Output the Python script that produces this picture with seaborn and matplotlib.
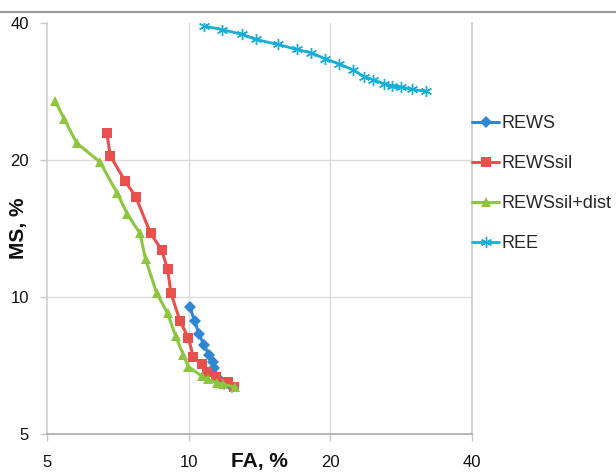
import matplotlib
matplotlib.use("Agg")
import matplotlib.pyplot as plt
import seaborn as sns
import pandas as pd
from matplotlib.ticker import FixedLocator, FixedFormatter, NullLocator
from matplotlib.lines import Line2D

# ---- data ----
rews_fa = [10.06, 10.29, 10.52, 10.78, 11.05, 11.24, 11.32, 11.54, 11.88, 12.36]
rews_ms = [9.51, 8.86, 8.29, 7.84, 7.46, 7.20, 6.98, 6.64, 6.44, 6.34]

rewssil_fa = [6.70, 6.82, 7.32, 7.72, 8.30, 8.76, 9.02, 9.17, 9.58, 9.99,
              10.23, 10.66, 10.92, 11.43, 12.14, 12.50]
rewssil_ms = [22.9, 20.4, 18.0, 16.6, 13.8, 12.7, 11.5, 10.2, 8.87, 8.12,
              7.39, 7.11, 6.85, 6.68, 6.51, 6.35]

dist_fa = [5.20, 5.44, 5.78, 6.48, 7.05, 7.41, 7.88, 8.10, 8.55, 9.02,
           9.38, 9.74, 9.99, 10.66, 11.00, 11.47, 11.81, 12.54]
dist_ms = [27.0, 24.6, 21.8, 19.8, 16.9, 15.2, 13.8, 12.1, 10.2, 9.21,
           8.21, 7.46, 7.03, 6.70, 6.59, 6.48, 6.44, 6.33]

ree_fa = [10.78, 11.75, 12.96, 13.9, 15.45, 16.96, 18.19, 19.48, 20.89, 22.3,
          23.6, 24.7, 26.0, 27.1, 28.3, 29.8, 32.0]
ree_ms = [39.4, 38.7, 37.8, 36.8, 35.9, 35.0, 34.4, 33.4, 32.5, 31.6,
          30.5, 30.0, 29.4, 29.1, 28.9, 28.6, 28.3]

tick_vals = [5, 10, 20, 40]
tick_labels = ["5", "10", "20", "40"]

series = [
    ("REWS", rews_fa, rews_ms, "#2F86D3", "D", 6.0),
    ("REWSsil", rewssil_fa, rewssil_ms, "#E8504E", "s", 6.5),
    ("REWSsil+dist", dist_fa, dist_ms, "#8CC63E", "^", 7.0),
    ("REE", ree_fa, ree_ms, "#16AED6", (6, 2, 0), 8.0),
]

sns.set_theme(style="white")
plt.rcParams['font.family'] = ['Liberation Sans', 'DejaVu Sans']

W, H = 616, 474
fig = plt.figure(figsize=(W / 100, H / 100), dpi=100)
ax = fig.add_axes([47 / W, 1 - 434 / H, 425 / W, 411 / H])

for name, fa, ms, col, mk, msz in series:
    df = pd.DataFrame({"FA": fa, "MS": ms})
    if name == "REE":
        sns.lineplot(data=df, x="FA", y="MS", ax=ax, sort=False, estimator=None,
                     color=col, marker=mk, markersize=msz, markeredgewidth=1.0,
                     markeredgecolor=col, linewidth=2.0, label=name)
    else:
        sns.lineplot(data=df, x="FA", y="MS", ax=ax, sort=False, estimator=None,
                     color=col, marker=mk, markersize=msz, markeredgewidth=0,
                     linewidth=2.2, label=name)

ax.set_xscale("log")
ax.set_yscale("log")
ax.set_xlim(5, 40)
ax.set_ylim(5, 40)

for v in (10, 20):
    ax.axvline(v, color="#dcdcdc", lw=1, zorder=0)
    ax.axhline(v, color="#dcdcdc", lw=1, zorder=0)

for axis in (ax.xaxis, ax.yaxis):
    axis.set_major_locator(FixedLocator(tick_vals))
    axis.set_major_formatter(FixedFormatter(tick_labels))
    axis.set_minor_locator(NullLocator())

ax.tick_params(axis="x", direction="out", length=5, width=1, color="#c8c8c8",
               labelsize=12, pad=10, labelcolor="#111111", bottom=True)
ax.tick_params(axis="y", direction="out", length=5, width=1, color="#c8c8c8",
               labelsize=12, pad=8, labelcolor="#111111", left=True)

ax.spines["top"].set_visible(False)
ax.spines["left"].set_color("#cfcfcf")
ax.spines["right"].set_color("#c8c8c8")
ax.spines["bottom"].set_color("#a8a8a8")
for s in ax.spines.values():
    s.set_linewidth(1.2)

ax.set_xlabel("FA, %", fontsize=15, fontweight="bold", color="#111111")
ax.xaxis.set_label_coords(0.5, -0.068)
ax.xaxis.label.set_va("center")
ax.set_ylabel("MS, %", fontsize=15, fontweight="bold", color="#111111")
ax.yaxis.set_label_coords(-0.066, 0.5)
ax.yaxis.label.set_va("center")

leg = ax.legend(loc="upper left", bbox_to_anchor=(1.0, 0.775), frameon=False,
                fontsize=13, handlelength=1.5, handletextpad=0.15,
                labelspacing=1.27, borderpad=0, borderaxespad=0)

fig.add_artist(Line2D([0, 1], [1 - 12 / H] * 2, transform=fig.transFigure,
                      color="#9a9a9a", lw=1.5))

fig.savefig("out.png", dpi=100)
